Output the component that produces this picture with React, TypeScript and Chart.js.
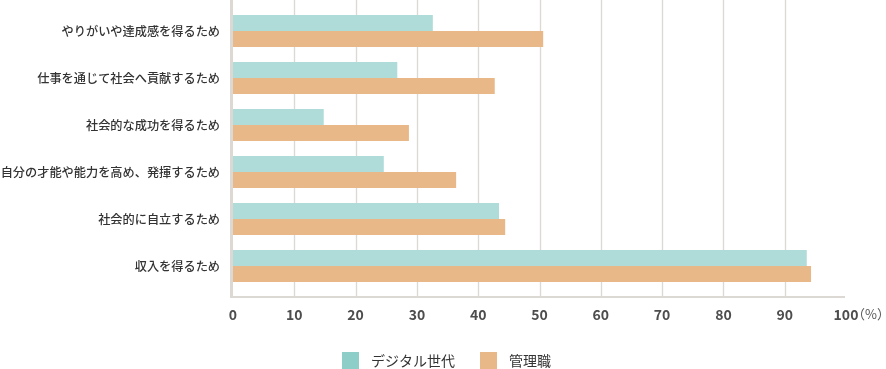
import React, { useEffect, useRef } from "react";
import { Chart, registerables } from "chart.js";

Chart.register(...registerables);

const categories = [
  "やりがいや達成感を得るため",
  "仕事を通じて社会へ貢献するため",
  "社会的な成功を得るため",
  "自分の才能や能力を高め、発揮するため",
  "社会的に自立するため",
  "収入を得るため",
];
const seriesNames = ["デジタル世代", "管理職"];
const digitalGen = [32.6, 26.8, 14.8, 24.6, 43.4, 93.6];
const managers = [50.6, 42.7, 28.7, 36.4, 44.4, 94.3];
const xTicks = [0, 10, 20, 30, 40, 50, 60, 70, 80, 90, 100];
const unitLabel = "（%）";

const barColors = ["#afdcd8", "#e9b889"];
const legendColors = ["#8dcec8", "#e9b889"];
const gridColor = "#dcd8d3";
const FONT = '"Noto Sans CJK JP", "Noto Sans", sans-serif';

const decorPlugin = {
  id: "decor",
  beforeDatasetsDraw(chart: any) {
    const { ctx, chartArea, scales } = chart;
    const x = scales.x;
    const bottomY = chartArea.bottom + 7.5;
    ctx.save();
    ctx.strokeStyle = gridColor;
    ctx.lineWidth = 1.3;
    xTicks.slice(1, -1).forEach((v) => {
      const px = Math.round(x.getPixelForValue(v)) + 0.5;
      ctx.beginPath();
      ctx.moveTo(px, 0);
      ctx.lineTo(px, bottomY);
      ctx.stroke();
    });
    // bottom axis line
    ctx.lineWidth = 2;
    ctx.beginPath();
    ctx.moveTo(chartArea.left - 3, bottomY);
    ctx.lineTo(x.getPixelForValue(100) - 1, bottomY);
    ctx.stroke();
    // left axis line
    ctx.fillStyle = gridColor;
    ctx.fillRect(chartArea.left - 3, 0, 3, bottomY + 1);
    ctx.restore();
  },
  afterDraw(chart: any) {
    const { ctx, scales } = chart;
    const x = scales.x;
    ctx.save();
    // unit label after "100"
    ctx.font = `13px ${FONT}`;
    ctx.fillStyle = "#555";
    ctx.textAlign = "left";
    ctx.textBaseline = "middle";
    ctx.fillText(unitLabel, x.getPixelForValue(100) + 6, 314);
    // legend
    const legendY = 361;
    const items = [
      { x: 342, text: seriesNames[0], color: legendColors[0] },
      { x: 480, text: seriesNames[1], color: legendColors[1] },
    ];
    ctx.font = `14px ${FONT}`;
    items.forEach((it) => {
      ctx.fillStyle = it.color;
      ctx.fillRect(it.x, legendY - 9, 17, 18);
      ctx.fillStyle = "#333";
      ctx.fillText(it.text, it.x + 29, legendY);
    });
    ctx.restore();
  },
};

export default function App() {
  const ref = useRef<HTMLCanvasElement | null>(null);
  useEffect(() => {
    if (!ref.current) return;
    const chart = new Chart(ref.current, {
      type: "bar",
      data: {
        labels: categories,
        datasets: [
          {
            label: seriesNames[0],
            data: digitalGen,
            backgroundColor: barColors[0],
            borderWidth: 0,
            barPercentage: 1,
            categoryPercentage: 32 / 47,
          },
          {
            label: seriesNames[1],
            data: managers,
            backgroundColor: barColors[1],
            borderWidth: 0,
            barPercentage: 1,
            categoryPercentage: 32 / 47,
          },
        ],
      },
      options: {
        indexAxis: "y",
        responsive: false,
        animation: false,
        maintainAspectRatio: false,
        layout: { padding: { top: 7.5, right: 40, left: 0, bottom: 28.7 } },
        plugins: {
          legend: { display: false },
          tooltip: { enabled: false },
        },
        scales: {
          x: {
            type: "linear",
            min: 0,
            max: 100,
            afterBuildTicks: (scale: any) => {
              scale.ticks = xTicks.map((v) => ({ value: v }));
            },
            grid: { display: false, drawTicks: false },
            border: { display: false },
            ticks: {
              padding: 17,
              color: "#4d4d4d",
              font: { family: FONT, size: 14, weight: "bold" },
              maxRotation: 0,
              autoSkip: false,
            },
          },
          y: {
            type: "category",
            afterFit: (scale: any) => {
              scale.width = 233;
              scale.paddingTop = 0;
              scale.paddingBottom = 0;
            },
            grid: { display: false, drawTicks: false },
            border: { display: false },
            ticks: {
              padding: 13,
              color: "#333",
              font: { family: FONT, size: 12.2, weight: 500 },
              autoSkip: false,
            },
          },
        },
      },
      plugins: [decorPlugin],
    });
    return () => chart.destroy();
  }, []);
  return (
    <div style={{ position: "absolute", left: 0, top: 0, width: 886, height: 369, background: "#fff" }}>
      <canvas ref={ref} width={886} height={369} style={{ display: "block" }} />
    </div>
  );
}
